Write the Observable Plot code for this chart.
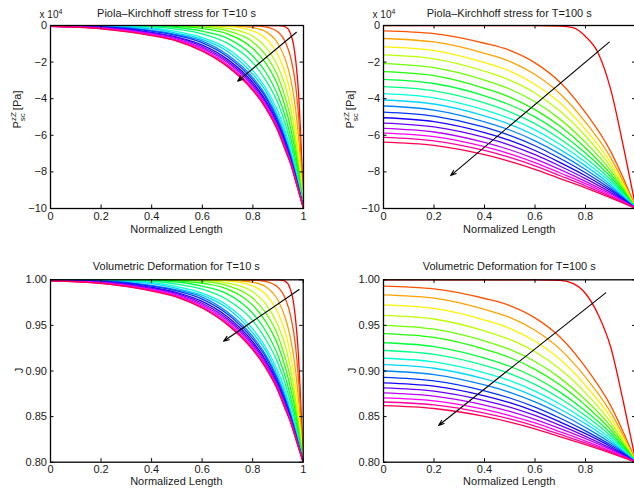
<!DOCTYPE html>
<html><head><meta charset="utf-8">
<script src="https://cdn.jsdelivr.net/npm/d3@7"></script>
<script src="https://cdn.jsdelivr.net/npm/@observablehq/plot@0.6"></script>
<style>
body{margin:0;background:#fff;}
#chart{position:relative;width:634px;height:490px;overflow:hidden;background:#fff;}
#chart svg{position:absolute;overflow:visible;}
</style></head><body><div id="chart"></div>
<script>
// ---------- data ----------
const xTickValues = [0, 0.2, 0.4, 0.6, 0.8, 1];
const stressTicks = [-10, -8, -6, -4, -2, 0];
const jacTicks = [0.8, 0.85, 0.9, 0.95, 1.0];

// T = 10 s : sample positions (first curve has its own grid)
const redGrid10 = [0, 0.9, 0.92, 0.94, 0.95, 0.96, 0.97, 0.98, 0.99, 1];
const xGrid10 = [0, 0.2, 0.4, 0.5, 0.6, 0.7, 0.8, 0.85, 0.9, 0.93, 0.95, 0.97, 0.985, 1];
const stress10 = [
  [0, 0, -0.03, -0.2, -0.5, -1.0, -2.0, -3.6, -6.4, -10],
  [0, 0, 0, 0, 0, 0, -0.01, -0.08, -0.37, -0.96, -1.78, -3.39, -5.79, -10],
  [0, 0, 0, 0, 0, -0.01, -0.12, -0.33, -1.01, -1.93, -2.96, -4.70, -6.84, -10],
  [0, 0, 0, 0, -0.01, -0.05, -0.30, -0.70, -1.64, -2.69, -3.82, -5.60, -7.48, -10],
  [0, 0, 0, -0.01, -0.03, -0.16, -0.59, -1.17, -2.28, -3.40, -4.57, -6.26, -7.95, -10],
  [0, 0, 0, -0.02, -0.08, -0.29, -0.90, -1.61, -2.82, -4.04, -5.14, -6.72, -8.27, -10],
  [0, 0, -0.01, -0.05, -0.17, -0.46, -1.26, -2.05, -3.32, -4.55, -5.66, -7.07, -8.49, -10],
  [0, -0.01, -0.04, -0.11, -0.31, -0.70, -1.67, -2.54, -3.86, -5.06, -6.16, -7.43, -8.70, -10],
  [0, -0.01, -0.07, -0.21, -0.46, -0.98, -2.04, -2.97, -4.28, -5.47, -6.52, -7.72, -8.85, -10],
  [-0.01, -0.03, -0.14, -0.34, -0.66, -1.27, -2.47, -3.40, -4.73, -5.85, -6.87, -7.97, -8.99, -10],
  [-0.01, -0.04, -0.19, -0.43, -0.76, -1.42, -2.67, -3.57, -4.97, -6.06, -7.02, -8.09, -9.04, -10],
  [-0.02, -0.05, -0.27, -0.50, -0.85, -1.60, -2.85, -3.79, -5.15, -6.25, -7.15, -8.20, -9.10, -10],
  [-0.02, -0.07, -0.31, -0.55, -0.95, -1.71, -2.98, -3.91, -5.28, -6.37, -7.23, -8.27, -9.13, -10],
  [-0.03, -0.09, -0.37, -0.63, -1.07, -1.85, -3.13, -4.08, -5.41, -6.50, -7.33, -8.34, -9.17, -10],
  [-0.03, -0.11, -0.42, -0.68, -1.16, -1.95, -3.24, -4.18, -5.51, -6.60, -7.40, -8.40, -9.20, -10],
  [-0.04, -0.13, -0.46, -0.74, -1.24, -2.04, -3.34, -4.29, -5.60, -6.69, -7.46, -8.45, -9.23, -10],
  [-0.05, -0.15, -0.50, -0.79, -1.31, -2.14, -3.44, -4.39, -5.70, -6.78, -7.52, -8.50, -9.25, -10],
  [-0.05, -0.17, -0.54, -0.84, -1.38, -2.22, -3.52, -4.47, -5.77, -6.85, -7.59, -8.54, -9.27, -10],
  [-0.05, -0.18, -0.55, -0.85, -1.40, -2.25, -3.55, -4.50, -5.80, -6.88, -7.60, -8.56, -9.28, -10]
];
const jacobian10 = [
  [1, 1, 0.9993, 0.9956, 0.9889, 0.9778, 0.9561, 0.9225, 0.8666, 0.8],
  [1, 1, 1, 1, 1, 1, 0.9998, 0.9982, 0.9918, 0.9787, 0.9609, 0.9268, 0.8785, 0.8],
  [1, 1, 1, 1, 1, 0.9998, 0.9973, 0.9927, 0.9776, 0.9576, 0.9357, 0.9001, 0.8582, 0.8],
  [1, 1, 1, 1, 0.9998, 0.9989, 0.9933, 0.9845, 0.9639, 0.9415, 0.9179, 0.8822, 0.8461, 0.8],
  [1, 1, 1, 0.9998, 0.9993, 0.9964, 0.9869, 0.9741, 0.9502, 0.9266, 0.9027, 0.8693, 0.8372, 0.8],
  [1, 1, 1, 0.9996, 0.9982, 0.9936, 0.9800, 0.9646, 0.9387, 0.9134, 0.8913, 0.8605, 0.8314, 0.8],
  [1, 1, 0.9998, 0.9989, 0.9962, 0.9898, 0.9722, 0.9550, 0.9283, 0.9031, 0.8810, 0.8538, 0.8273, 0.8],
  [1, 0.9998, 0.9991, 0.9976, 0.9931, 0.9845, 0.9633, 0.9447, 0.9171, 0.8929, 0.8712, 0.8470, 0.8235, 0.8],
  [1, 0.9998, 0.9984, 0.9953, 0.9898, 0.9782, 0.9553, 0.9355, 0.9086, 0.8848, 0.8643, 0.8416, 0.8207, 0.8],
  [0.9998, 0.9993, 0.9969, 0.9925, 0.9853, 0.9719, 0.9461, 0.9266, 0.8995, 0.8773, 0.8576, 0.8369, 0.8182, 0.8],
  [0.9998, 0.9991, 0.9958, 0.9905, 0.9831, 0.9687, 0.9419, 0.9231, 0.8947, 0.8731, 0.8547, 0.8347, 0.8173, 0.8],
  [0.9996, 0.9989, 0.9940, 0.9889, 0.9811, 0.9648, 0.9381, 0.9185, 0.8911, 0.8695, 0.8523, 0.8326, 0.8162, 0.8],
  [0.9996, 0.9984, 0.9931, 0.9878, 0.9789, 0.9624, 0.9353, 0.9161, 0.8886, 0.8672, 0.8508, 0.8314, 0.8157, 0.8],
  [0.9993, 0.9980, 0.9918, 0.9860, 0.9763, 0.9594, 0.9322, 0.9126, 0.8860, 0.8647, 0.8489, 0.8301, 0.8149, 0.8],
  [0.9993, 0.9976, 0.9907, 0.9849, 0.9743, 0.9572, 0.9299, 0.9106, 0.8840, 0.8628, 0.8476, 0.8290, 0.8144, 0.8],
  [0.9991, 0.9971, 0.9898, 0.9836, 0.9726, 0.9553, 0.9279, 0.9084, 0.8822, 0.8611, 0.8465, 0.8281, 0.8139, 0.8],
  [0.9989, 0.9967, 0.9889, 0.9825, 0.9711, 0.9531, 0.9258, 0.9064, 0.8802, 0.8593, 0.8453, 0.8272, 0.8135, 0.8],
  [0.9989, 0.9962, 0.9880, 0.9814, 0.9696, 0.9514, 0.9241, 0.9048, 0.8789, 0.8580, 0.8440, 0.8264, 0.8131, 0.8],
  [0.9989, 0.9960, 0.9878, 0.9811, 0.9691, 0.9508, 0.9235, 0.9042, 0.8783, 0.8574, 0.8438, 0.8261, 0.8130, 0.8]
];

// T = 100 s
const redGrid100 = [0, 0.6, 0.7, 0.75, 0.8, 0.85, 0.9, 0.95, 1];
const xGrid100 = [0, 0.2, 0.4, 0.5, 0.6, 0.7, 0.8, 0.9, 0.95, 1];
const stress100 = [
  [0, 0, -0.03, -0.12, -0.6, -1.5, -3.5, -6.6, -10],
  [-0.29, -0.44, -0.97, -1.36, -2.04, -3.11, -4.76, -6.89, -8.35, -10],
  [-0.71, -0.90, -1.52, -1.96, -2.68, -3.74, -5.28, -7.23, -8.53, -10],
  [-1.17, -1.37, -2.03, -2.49, -3.22, -4.24, -5.69, -7.49, -8.68, -10],
  [-1.61, -1.82, -2.50, -2.99, -3.69, -4.69, -6.04, -7.72, -8.80, -10],
  [-2.08, -2.30, -2.98, -3.47, -4.17, -5.13, -6.39, -7.93, -8.92, -10],
  [-2.52, -2.74, -3.43, -3.91, -4.60, -5.51, -6.69, -8.12, -9.01, -10],
  [-2.94, -3.17, -3.84, -4.33, -4.99, -5.87, -6.97, -8.28, -9.10, -10],
  [-3.34, -3.57, -4.23, -4.72, -5.36, -6.20, -7.23, -8.44, -9.19, -10],
  [-3.72, -3.95, -4.61, -5.08, -5.70, -6.50, -7.46, -8.58, -9.27, -10],
  [-4.07, -4.29, -4.94, -5.40, -6.01, -6.78, -7.67, -8.71, -9.34, -10],
  [-4.40, -4.62, -5.26, -5.71, -6.30, -7.03, -7.87, -8.82, -9.40, -10],
  [-4.73, -4.95, -5.56, -6.01, -6.57, -7.27, -8.05, -8.94, -9.45, -10],
  [-5.04, -5.25, -5.85, -6.28, -6.83, -7.49, -8.21, -9.03, -9.51, -10],
  [-5.33, -5.54, -6.12, -6.54, -7.06, -7.69, -8.37, -9.13, -9.56, -10],
  [-5.62, -5.82, -6.39, -6.79, -7.29, -7.88, -8.52, -9.21, -9.60, -10],
  [-5.88, -6.07, -6.62, -7.01, -7.49, -8.06, -8.64, -9.29, -9.64, -10],
  [-6.11, -6.30, -6.83, -7.21, -7.67, -8.21, -8.76, -9.35, -9.67, -10],
  [-6.37, -6.55, -7.06, -7.42, -7.86, -8.37, -8.87, -9.42, -9.71, -10]
];
const jacobian100 = [
  [1, 1, 0.9993, 0.996, 0.985, 0.962, 0.926, 0.866, 0.8],
  [0.993, 0.990, 0.9795, 0.9718, 0.9583, 0.937, 0.9042, 0.8618, 0.8328, 0.8],
  [0.9835, 0.9798, 0.9675, 0.9587, 0.9446, 0.9237, 0.8932, 0.8547, 0.829, 0.8],
  [0.9726, 0.9686, 0.9559, 0.9467, 0.9326, 0.9125, 0.8842, 0.849, 0.8259, 0.8],
  [0.961, 0.957, 0.9439, 0.9346, 0.9211, 0.9019, 0.876, 0.8438, 0.823, 0.8],
  [0.950, 0.9458, 0.9329, 0.9236, 0.9104, 0.8922, 0.8684, 0.8393, 0.8205, 0.8],
  [0.941, 0.9368, 0.9239, 0.9148, 0.9018, 0.8846, 0.8623, 0.8355, 0.8186, 0.8],
  [0.931, 0.9268, 0.9142, 0.9052, 0.8929, 0.8766, 0.8562, 0.8318, 0.8166, 0.8],
  [0.9225, 0.9183, 0.9061, 0.8971, 0.8853, 0.8698, 0.851, 0.8287, 0.8149, 0.8],
  [0.914, 0.9099, 0.8979, 0.8894, 0.878, 0.8635, 0.8461, 0.8258, 0.8133, 0.8],
  [0.907, 0.903, 0.8913, 0.8829, 0.872, 0.8581, 0.8421, 0.8232, 0.812, 0.8],
  [0.900, 0.8961, 0.8847, 0.8766, 0.8661, 0.8531, 0.8381, 0.821, 0.8108, 0.8],
  [0.893, 0.8892, 0.8783, 0.8704, 0.8604, 0.8482, 0.8344, 0.8188, 0.8097, 0.8],
  [0.887, 0.8833, 0.8727, 0.8652, 0.8557, 0.844, 0.8313, 0.817, 0.8086, 0.8],
  [0.8815, 0.8779, 0.8676, 0.8604, 0.8513, 0.8403, 0.8284, 0.8152, 0.8077, 0.8],
  [0.876, 0.8725, 0.8627, 0.8557, 0.847, 0.8367, 0.8258, 0.8137, 0.8069, 0.8],
  [0.8706, 0.8673, 0.8579, 0.8512, 0.843, 0.8333, 0.8232, 0.8122, 0.8062, 0.8],
  [0.866, 0.8628, 0.8538, 0.8474, 0.8396, 0.8304, 0.8211, 0.811, 0.8055, 0.8],
  [0.862, 0.8589, 0.8502, 0.844, 0.8366, 0.8279, 0.8192, 0.8099, 0.805, 0.8]
];

// arrows [x1, y1, x2, y2] in data units
const arrowStress10 = [0.972, -0.37, 0.740, -3.04];
const arrowStress100 = [0.894, -0.91, 0.266, -8.20];
const arrowJac10 = [0.984, 0.9894, 0.685, 0.9327];
const arrowJac100 = [0.880, 0.9857, 0.218, 0.8403];

// ---------- drawing ----------
const FONT = "'Liberation Sans', Arial, Helvetica, sans-serif";
const TEXT = "#1a1a1a";
const COLORS = d3.range(19).map(i => d3.hsl(i * 360 / 19, 1, 0.5).formatHex());
const fmtX = d3.format("~g");

function drawPanel(p) {
  const innerW = p.width - p.mL - p.mR, innerH = p.height - p.mT - p.mB;
  const data = p.curves.flatMap((ys, ci) =>
    (ci === 0 ? p.redX : p.xs).map((x, j) => ({x, y: ys[j], c: ci})));
  const svg = Plot.plot({
    width: p.width, height: p.height,
    marginLeft: p.mL, marginRight: p.mR, marginTop: p.mT, marginBottom: p.mB,
    x: {domain: [0, 1]}, y: {domain: p.yDomain},
    color: {type: "identity"},
    style: {fontFamily: FONT, fontSize: "11px", color: TEXT, background: "transparent", overflow: "visible"},
    marks: [
      Plot.line(data, {x: "x", y: "y", z: "c", stroke: d => COLORS[d.c], strokeWidth: 1.3, curve: "monotone-x", clip: true}),
      Plot.arrow([p.arrow], {x1: d => d[0], y1: d => d[1], x2: d => d[2], y2: d => d[3],
        stroke: "black", strokeWidth: 1.1, headLength: 8, headAngle: 40}),
      Plot.frame({stroke: "black", strokeWidth: 1.3}),
      Plot.tickX(xTickValues, {x: d => d, insetTop: innerH - 3.5, stroke: "black"}),
      Plot.tickX(xTickValues, {x: d => d, insetBottom: innerH - 3.5, stroke: "black"}),
      Plot.tickY(p.yTicks, {y: d => d, insetRight: innerW - 3.5, stroke: "black"}),
      Plot.tickY(p.yTicks, {y: d => d, insetLeft: innerW - 3.5, stroke: "black"}),
      Plot.axisX({ticks: p.xLabelTicks, tickSize: 0, tickPadding: p.xPad, tickFormat: fmtX, label: null, fontSize: 11}),
      Plot.axisY({ticks: p.yTicks, tickSize: 0, tickPadding: 3.5, tickFormat: p.yFormat, label: null, fontSize: 11})
    ]
  });
  svg.style.left = p.left + "px";
  svg.style.top = p.top + "px";
  const s = d3.select(svg);
  const cx = p.mL + innerW / 2;
  s.append("text").attr("x", cx).attr("y", p.mT - p.titleGap)
    .attr("text-anchor", "middle").attr("font-family", FONT).attr("font-size", 11).attr("fill", TEXT)
    .text(p.title);
  s.append("text").attr("x", cx).attr("y", p.height - p.mB + p.xLabelGap)
    .attr("text-anchor", "middle").attr("font-family", FONT).attr("font-size", 11).attr("fill", TEXT)
    .text("Normalized Length");
  const yl = s.append("text")
    .attr("transform", `translate(${p.mL - p.yLabelGap},${p.yLabelY}) rotate(-90)`)
    .attr("text-anchor", "middle").attr("font-family", FONT).attr("font-size", 11).attr("fill", TEXT);
  if (p.kind === "stress") {
    yl.append("tspan").text("P");
    yl.append("tspan").attr("font-size", 8).attr("dy", -5).text("zZ");
    yl.append("tspan").attr("font-size", 8).attr("dx", -9).attr("dy", 8.5).text("sc");
    yl.append("tspan").attr("dy", -3.5).text(" [Pa]");
    const ex = s.append("text").attr("x", p.mL + 1).attr("y", p.mT - 7.5)
      .attr("font-family", FONT).attr("font-size", 10).attr("fill", TEXT);
    ex.append("tspan").text("x 10");
    ex.append("tspan").attr("font-size", 7).attr("dy", -4).text("4");
  } else {
    yl.text("J");
  }
  document.getElementById("chart").appendChild(svg);
}

const fmtStress = d => d3.format("d")(d).replace("-", "\u2212");
const fmtJac = d3.format(".2f");
const leftXLabels = xTickValues;
const rightXLabels = xTickValues.filter(v => v < 1);

const topCommon = {width: 320, height: 245, mT: 25, mB: 37, xPad: 4, titleGap: 8, xLabelGap: 24.5,
  kind: "stress", yDomain: [-10, 0], yTicks: stressTicks, yFormat: fmtStress, yLabelGap: 29};
const botCommon = {width: 320, height: 245, mT: 34.3, mB: 28.3, xPad: 2.5, titleGap: 9.3, xLabelGap: 23,
  kind: "jac", yDomain: [0.8, 1.0], yTicks: jacTicks, yFormat: fmtJac, yLabelGap: 27};

drawPanel({...topCommon, left: 0, top: 0, mL: 50, mR: 17, yLabelY: 109.5, xLabelTicks: leftXLabels,
  title: "Piola\u2013Kirchhoff stress for T=10 s",
  curves: stress10, xs: xGrid10, redX: redGrid10, arrow: arrowStress10});
drawPanel({...topCommon, left: 317, top: 0, mL: 66, mR: 1.5, yLabelY: 109.5, xLabelTicks: rightXLabels,
  title: "Piola\u2013Kirchhoff stress for T=100 s",
  curves: stress100, xs: xGrid100, redX: redGrid100, arrow: arrowStress100});
drawPanel({...botCommon, left: 0, top: 245, mL: 50, mR: 17.3, yLabelY: 125.5, xLabelTicks: leftXLabels,
  title: "Volumetric Deformation for T=10 s",
  curves: jacobian10, xs: xGrid10, redX: redGrid10, arrow: arrowJac10});
drawPanel({...botCommon, left: 317, top: 245, mL: 66, mR: 1.5, yLabelY: 125.5, xLabelTicks: rightXLabels,
  title: "Volumetric Deformation for T=100 s",
  curves: jacobian100, xs: xGrid100, redX: redGrid100, arrow: arrowJac100});
</script></body></html>
